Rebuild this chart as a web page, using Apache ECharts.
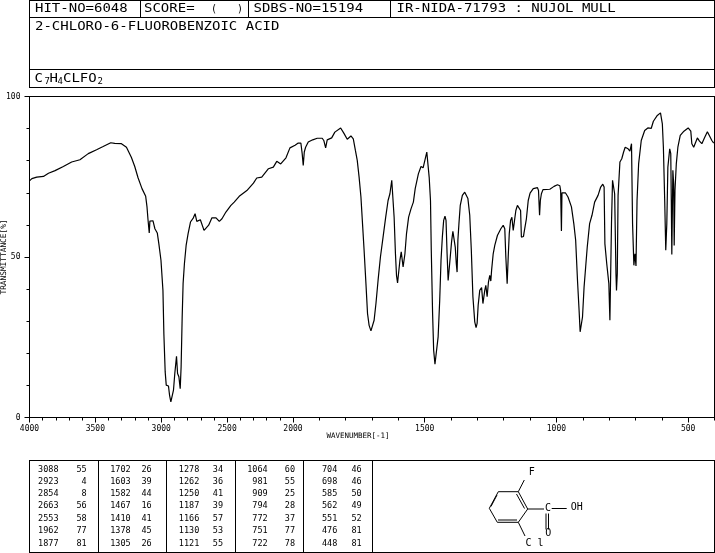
<!DOCTYPE html>
<html><head><meta charset="utf-8">
<style>html,body{margin:0;padding:0;background:#fff}#c{width:715px;height:553px}</style>
<script src="https://cdn.jsdelivr.net/npm/echarts@6/dist/echarts.min.js"></script>
</head><body><div id="c"></div>
<script>
const wavenumbers=[4000,3982,3945,3894,3856,3806,3743,3680,3617,3554,3491,3441,3383,3353,3302,3264,3227,3201,3176,3146,3118,3108,3101,3091,3086,3063,3048,3030,3018,3002,2987,2980,2970,2962,2945,2937,2927,2917,2907,2897,2884,2876,2866,2856,2849,2841,2834,2824,2811,2796,2778,2756,2743,2730,2703,2690,2675,2660,2640,2615,2584,2559,2539,2509,2471,2446,2408,2400,2350,2300,2275,2237,2186,2149,2123,2093,2053,2023,1992,1980,1970,1965,1961,1957,1952,1942,1925,1908,1889,1883,1876,1870,1853,1841,1819,1807,1794,1780,1771,1763,1756,1749,1742,1736,1730,1723,1717,1711,1704,1698,1692,1685,1677,1668,1658,1648,1639,1632,1625,1621,1616,1611,1607,1603,1599,1594,1589,1586,1582,1575,1569,1561,1552,1543,1536,1524,1514,1506,1498,1492,1487,1483,1478,1475,1470,1466,1461,1454,1449,1443,1438,1433,1428,1423,1419,1415,1411,1407,1403,1398,1393,1389,1384,1380,1377,1374,1370,1365,1357,1348,1342,1336,1329,1323,1317,1310,1305,1301,1297,1291,1284,1279,1272,1268,1263,1258,1253,1249,1246,1240,1234,1224,1211,1202,1196,1192,1187,1183,1179,1174,1169,1164,1159,1154,1148,1141,1136,1133,1125,1123,1117,1114,1107,1100,1088,1072,1068,1064,1061,1057,1051,1025,1009,996,987,984,981,979,966,956,943,934,927,920,914,910,907,901,895,889,883,874,865,855,842,832,824,819,816,809,801,797,794,791,787,782,779,774,772,769,766,759,752,745,739,728,721,715,711,706,702,698,694,688,678,665,653,640,632,617,605,598,594,589,585,581,577,570,566,564,562,558,555,553,550,545,539,530,516,500,490,486,479,474,465,457,448,437,427,420,410,403];
const transmittance=[73.7,74.4,74.9,75.1,76.1,76.9,78.2,79.6,80.3,82.2,83.4,84.4,85.6,85.4,85.3,84.2,81.1,78.2,74.7,71.3,68.9,65.6,61.9,57.5,61.2,61.3,58.8,57.5,54.1,49,39.6,26.1,14.2,10.1,9.8,7,4.9,4.9,8.5,13.7,19.1,13.7,12.7,9,15.8,31.3,41.7,47.9,53.6,57.3,60.9,62.2,63.5,61.1,61.6,61.2,58.3,58.3,59.9,62.2,62.2,61.1,61.9,64,66.1,67.1,68.9,68.7,70.7,73,74.6,74.9,77.5,78,79.8,79,80.9,84,84.8,85.5,85.5,82.2,78.5,82.7,84.2,85.8,86.5,87,87,86.3,84,86.5,87.1,88.9,90.2,88.6,86.7,87.7,86.8,83.2,80.1,74.9,68.7,60.4,52.1,41.7,32.4,28.7,27,27,30.3,35.5,42.7,50,56.2,62.4,67.6,69.7,73.9,73.7,62.4,51,44.3,41.9,41.7,49,51.6,51.6,46.9,51,57.3,62.4,65,67.1,71.3,75.9,78.2,77.8,80.6,82.7,82.2,74.9,67.6,52.1,32.4,21,16.6,16.6,25.1,36.5,49,56.2,61.4,62.7,61.4,51,42.7,42.7,50,54.7,58,57.8,53.1,47.9,45.3,55.2,60.4,66.1,69.2,70.2,70.2,68.2,63,52.1,37.6,29.8,28,29.3,35,39.6,40.5,35.5,39.6,41.2,37.6,42.2,44.3,42.5,45.9,51,53.6,56.7,58.8,59.9,58.8,50,41.7,50,57.3,61.4,62.4,58.3,61.4,64.5,66.1,66.3,64.5,56.2,56.4,57.5,57.3,61.9,67.6,69.9,71.3,71.6,70.7,63,67.6,69.7,71,71.1,72,72.5,72.2,70.7,58.1,70,70,68.7,65.6,60.4,55.2,42.7,33.4,26.7,27,31.3,40.7,46.9,53.1,60.4,63,67.1,69.2,71.8,72.7,71.8,54.1,47.9,41.7,30.3,29.8,60.4,73.9,74.4,69.7,44.8,39.6,44.8,69.2,79.6,80.6,82.7,84.2,83.7,83,85.3,60.4,47.4,51,47.2,67.6,79,86.3,89.4,90.2,90.1,92.3,94.1,94.9,91.5,84.2,67.6,52.1,60.4,78,83.7,82.2,67.6,50.8,77,72.8,53.6,70.7,79,84.2,87.9,89.2,90.2,89.2,85.3,84.2,84.8,87.1,86.1,85.3,87.3,89,88.6,86.3,85.5];
const xMajorTicks=[4000,3500,3000,2500,2000,1500,1000,500];
const xMinorTicks=[3900,3800,3700,3600,3400,3300,3200,3100,2900,2800,2700,2600,2400,2300,2200,2100,1900,1800,1700,1600,1400,1300,1200,1100,900,800,700,600,400];
const yMajorTicks=[0,50,100];
const peakWavenumbers=[[3088,2923,2854,2663,2553,1962,1877],[1702,1603,1582,1467,1410,1378,1305],[1278,1262,1250,1187,1166,1130,1121],[1064,981,909,794,772,751,722],[704,698,585,562,551,476,448]];
const peakValues=[[55,4,8,56,58,77,81],[26,39,44,16,41,45,26],[34,36,41,39,57,53,55],[60,55,25,28,37,77,78],[46,46,50,49,52,81,81]];
const headerTexts=["HIT-NO=6048","SCORE=","SDBS-NO=15194","IR-NIDA-71793 : NUJOL MULL","2-CHLORO-6-FLUOROBENZOIC ACID"];

// The instrument's axis doubles its scale below 2000 cm-1: one axis unit per 2 cm-1 above, per 1 cm-1 below.
const toAxis=w=>w>=2000?(4000-w)/2:1000+(2000-w);
const fromAxis=u=>u<=1000?4000-2*u:2000-(u-1000);

const mono='"DejaVu Sans Mono"';
const g=[];
const line=(x1,y1,x2,y2,w)=>g.push({type:'line',silent:true,shape:{x1,y1,x2,y2},style:{stroke:'#000',lineWidth:w||1}});
const text=(t,x,y,size,align,scaleY)=>g.push({type:'text',silent:true,x,y,scaleY:scaleY||1,style:{text:t,fill:'#000',font:`${size}px ${mono}`,textAlign:align||'left',textVerticalAlign:'middle'}});
const big=(t,x,y)=>text(t,x,y,14,'left',0.82);

// header frames
[0.5,17.5,69.5,87.5].forEach(y=>line(29,y,715,y));
line(29.5,0,29.5,88);line(714.5,0,714.5,88);
[140.5,248.5,390.5].forEach(x=>line(x,0,x,17));
big(headerTexts[0],35,9.5);
big(headerTexts[1],144,9.5);
text('(',211,9.5,10);text(')',237,9.5,10);
big(headerTexts[2],253.5,9.5);
big(headerTexts[3],396.5,9.5);
big(headerTexts[4],35,27);
big('C',34.5,79);text('7',44.5,82,9);big('H',49.5,79);text('4',57.5,82,9);big('CLFO',63,79);text('2',97.5,82,9);

// peak table frames
[460.5,552.5].forEach(y=>line(29,y,715,y));
[29.5,98.5,166.5,235.5,303.5,372.5,714.5].forEach(x=>line(x,460,x,553));
const waveRight=[58.5,130.7,199.3,267.7,337.3],valRight=[86.7,151.7,223,295,361.7];
const rowY=[470,481.7,493.7,505.7,518.3,531,544];
peakWavenumbers.forEach((col,c)=>col.forEach((w,r)=>{
  text(String(w),waveRight[c],rowY[r],8.5,'right');
  text(String(peakValues[c][r]),valRight[c],rowY[r],8.5,'right');
}));

// structure
const ring=[[498.3,491.7],[518.3,491.7],[527.7,509],[518.3,522.3],[497.3,522.3],[489.3,508.3]];
ring.forEach((p,i)=>{const q=ring[(i+1)%6];line(p[0],p[1],q[0],q[1]);});
line(516.5,494,524.5,508.5);line(497,495,491,506.5);line(498,520,517,520);
line(518.3,491.7,524.3,480);line(518.3,522.3,525,536);
line(527.7,509,544,509);line(551.7,508.5,566.7,508.5);
line(546,513.5,546,529.5);line(548.5,513.5,548.5,529.5);
text('F',531.7,472.5,10,'center');
text('C l',534.5,543.5,10,'center');
text('C',548,508.5,10,'center');
text('OH',576.7,507.5,10,'center');
text('O',548.3,533.5,10,'center');

// axis names
g.push({type:'text',silent:true,x:3.5,y:257,rotation:Math.PI/2,style:{text:'TRANSMITTANCE[%]',fill:'#000',font:`7.8px ${mono}`,textAlign:'center',textVerticalAlign:'middle'}});
text('WAVENUMBER[-1]',358,436.5,7.5,'center');

const ch=echarts.init(document.getElementById('c'),null,{renderer:'canvas'});
const axisBase={min:0,max:2600,position:'bottom',splitLine:{show:false},axisLine:{show:true,onZero:false,lineStyle:{color:'#000',width:1}}};
ch.setOption({
  animation:false,backgroundColor:'#fff',
  grid:{left:29.5,right:0.5,top:96.5,height:321,containLabel:false},
  xAxis:[
    {...axisBase,type:'value',
     axisTick:{show:true,length:5,customValues:xMajorTicks.map(toAxis),lineStyle:{color:'#000'}},
     axisLabel:{show:true,customValues:xMajorTicks.map(toAxis),formatter:v=>String(Math.round(fromAxis(v))),color:'#000',fontFamily:'DejaVu Sans Mono',fontSize:8,margin:7}},
    {...axisBase,type:'value',
     axisTick:{show:true,length:3,customValues:xMinorTicks.map(toAxis),lineStyle:{color:'#000'}},
     axisLabel:{show:false}}
  ],
  yAxis:[
    {type:'value',min:0,max:100,position:'left',splitLine:{show:false},
     axisLine:{show:true,onZero:false,lineStyle:{color:'#000'}},
     axisTick:{show:true,length:5,customValues:yMajorTicks,lineStyle:{color:'#000'}},
     axisLabel:{show:true,customValues:yMajorTicks,color:'#000',fontFamily:'DejaVu Sans Mono',fontSize:8,margin:9}},
    {type:'value',min:0,max:100,interval:10,position:'left',splitLine:{show:false},
     axisLine:{show:true,onZero:false,lineStyle:{color:'#000'}},
     axisTick:{show:true,length:3,lineStyle:{color:'#000'}},
     axisLabel:{show:false}}
  ],
  series:[{type:'line',xAxisIndex:0,yAxisIndex:0,showSymbol:false,symbol:'none',smooth:false,clip:true,
    lineStyle:{color:'#000',width:1.2},
    data:wavenumbers.map((w,i)=>[toAxis(w),transmittance[i]])}],
  graphic:{elements:[
    ...g,
    {type:'line',silent:true,shape:{x1:29,y1:96.5,x2:715,y2:96.5},style:{stroke:'#000',lineWidth:1}},
    {type:'line',silent:true,shape:{x1:714.5,y1:96,x2:714.5,y2:418},style:{stroke:'#000',lineWidth:1}}
  ]}
});
</script></body></html>
